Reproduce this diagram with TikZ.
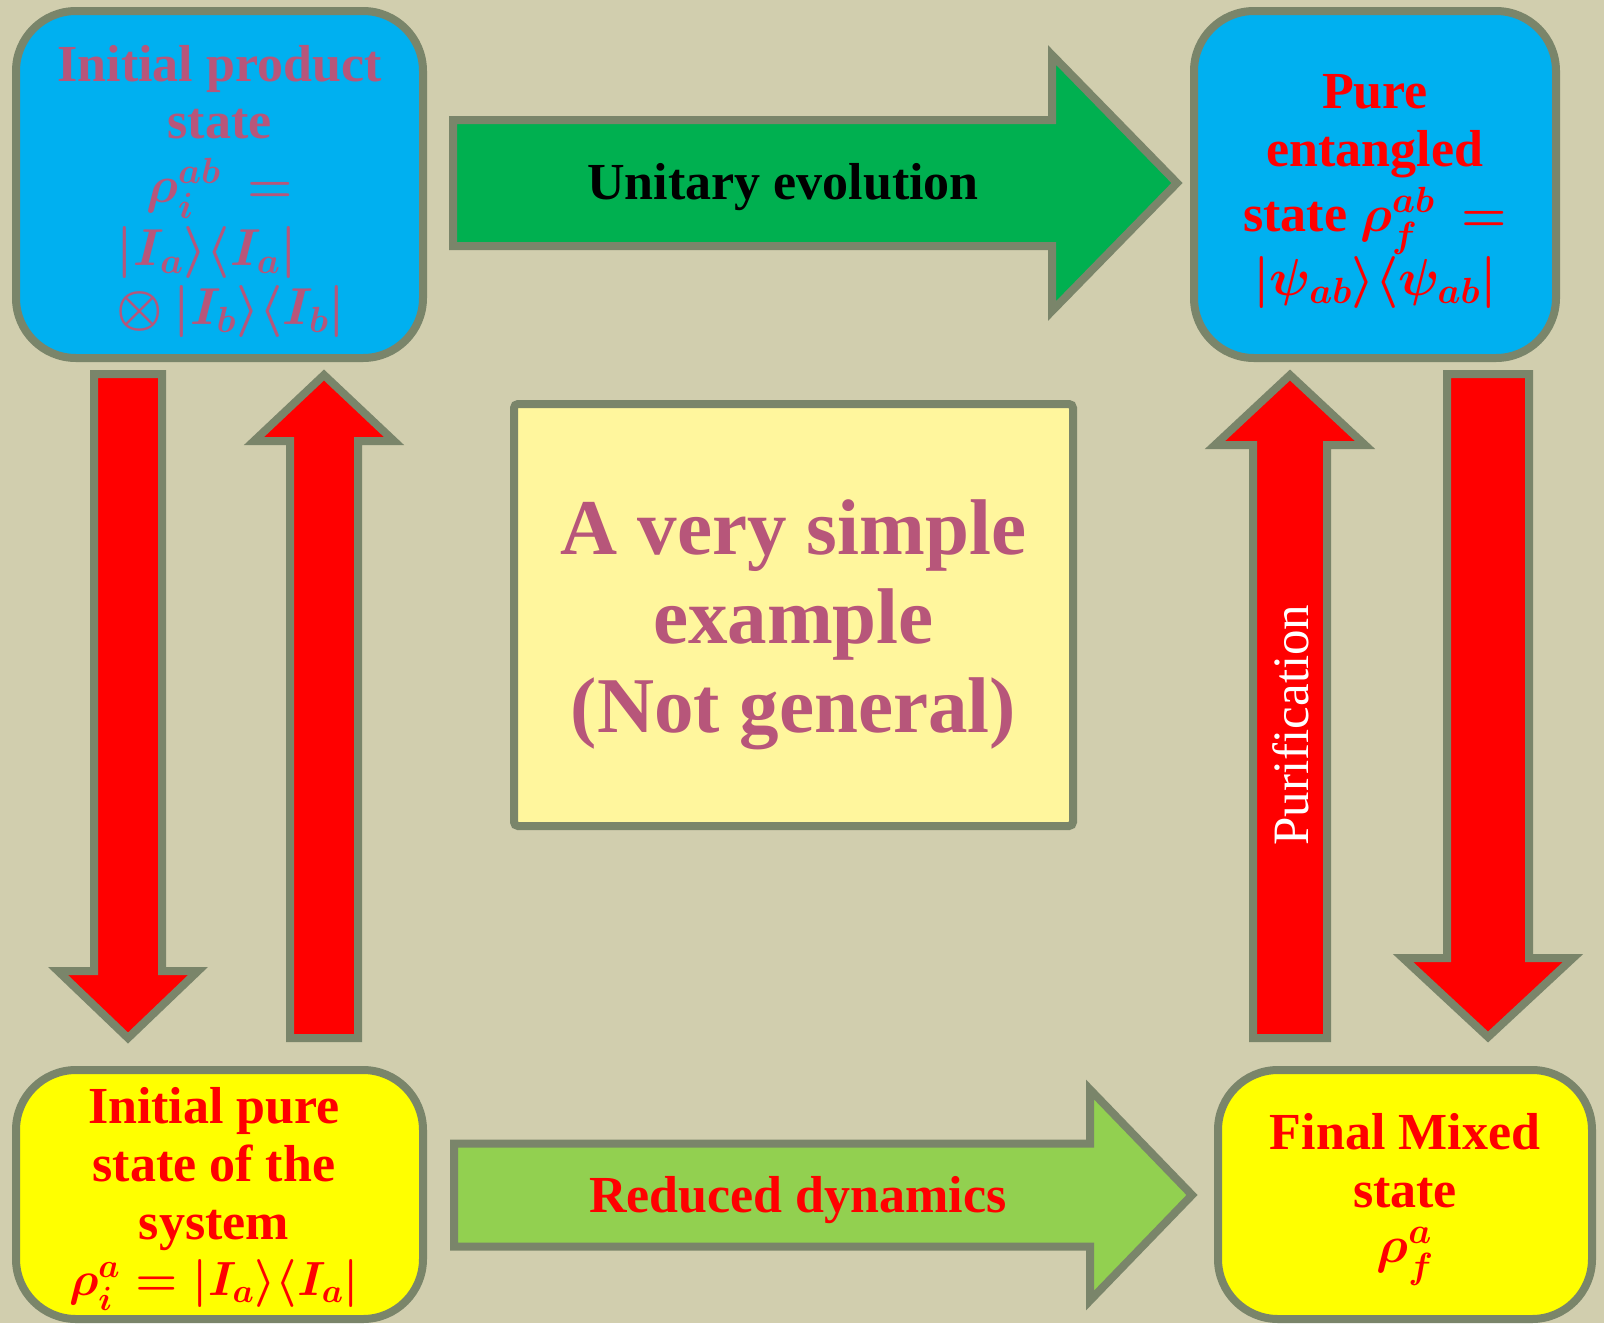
\RequirePackage{fix-cm}
\documentclass[tikz,border=0pt]{standalone}
\usepackage{amsmath}
\usepackage{fontspec}
\setmainfont{Liberation Serif}
\usetikzlibrary{calc}
\setlength{\lineskiplimit}{-200pt}
\definecolor{bg}{RGB}{209,206,174}
\definecolor{bord}{RGB}{122,133,106}
\definecolor{boxblue}{RGB}{0,176,240}
\definecolor{boxyel}{RGB}{255,255,0}
\definecolor{paleyel}{RGB}{255,246,157}
\definecolor{darkgreen}{RGB}{0,176,80}
\definecolor{lightgreen}{RGB}{146,208,80}
\definecolor{pinktxt}{RGB}{183,86,122}
\definecolor{redtxt}{RGB}{255,0,0}
\tikzset{
  stbox/.style={draw=bord, line width=8pt, rounded corners=60pt, inner sep=0pt},
  blkarrow/.style={draw=bord, line width=8pt, line join=miter},
  bigtxt/.style={font=\fontsize{52}{57}\selectfont\bfseries\boldmath, inner sep=0pt, align=center},
}
\newcommand\blockarrow[6]{%
  \coordinate (#1h) at ($(#2)!#5!(#1)$);
  \draw[blkarrow,fill=#6] ($(#1)!#3!90:(#2)$) -- ($(#1h)!#3!90:(#2)$) -- ($(#1h)!#4!90:(#2)$) -- (#2)
    -- ($(#1h)!#4!-90:(#2)$) -- ($(#1h)!#3!-90:(#2)$) -- ($(#1)!#3!-90:(#2)$) -- cycle;}
\begin{document}
\begin{tikzpicture}[x=1pt,y=-1pt]
\useasboundingbox (0,0) rectangle (1604,1323);
\fill[bg] (0,0) rectangle (1604,1323);

% state boxes
\node[stbox, fill=boxblue, minimum width=407pt, minimum height=347pt] (tl) at (219.5,184.5) {};
\node[stbox, fill=boxblue, minimum width=362pt, minimum height=347pt] (tr) at (1375,184.5) {};
\node[stbox, fill=boxyel, minimum width=407pt, minimum height=249pt] (bl) at (219.5,1194.5) {};
\node[stbox, fill=boxyel, minimum width=374pt, minimum height=249pt] (br) at (1405,1194.5) {};
\node[stbox, rounded corners=4pt, fill=paleyel, minimum width=559pt, minimum height=422pt] (mid) at (793.5,615) {};

% texts in the boxes
\node[bigtxt, text=pinktxt, anchor=north] (tltxt) at (219.5,45)
  {Initial product\\state\\[7pt]$\rho_i^{ab}\,=$\\[6pt]\makebox[205pt][l]{$|I_a\rangle\langle I_a|$}\\[2pt]\makebox[205pt][l]{$\otimes\,|I_b\rangle\langle I_b|$}};
\node[bigtxt, text=redtxt, anchor=north] (trtxt) at (1375,74)
  {Pure\\[1pt]entangled\\[8pt]state $\rho_f^{ab}\,=$\\[7pt]$|\psi_{ab}\rangle\langle\psi_{ab}|$};
\node[bigtxt, text=redtxt, anchor=north] (bltxt) at (214,1087)
  {Initial pure\\[1pt]state of the\\[1pt]system\\[-1pt]{\fontsize{48}{57}\selectfont$\rho_i^{a} = |I_a\rangle\langle I_a|$}};
\node[bigtxt, text=redtxt, anchor=north] (brtxt) at (1405,1113)
  {Final Mixed\\[1pt]state\\[-2pt]$\rho_f^{a}$};
\node[inner sep=0pt, align=center, text=pinktxt, anchor=north,
  font=\fontsize{79}{89}\selectfont\bfseries] (midtxt) at (793.5,499)
  {A very simple\\example\\(Not general)};

% block arrows
\coordinate (uA) at (453,183);   \coordinate (uB) at (1177,183);
\blockarrow{uA}{uB}{63pt}{128pt}{125pt}{darkgreen}
\coordinate (rA) at (454,1195);  \coordinate (rB) at (1192,1195);
\blockarrow{rA}{rB}{51.5pt}{105.5pt}{102pt}{lightgreen}
\coordinate (ldA) at (128,374);  \coordinate (ldB) at (128,1038);
\blockarrow{ldA}{ldB}{34pt}{70pt}{67pt}{redtxt}
\coordinate (luA) at (324,1038); \coordinate (luB) at (324,375);
\blockarrow{luA}{luB}{34pt}{70pt}{66pt}{redtxt}
\coordinate (ruA) at (1290,1038); \coordinate (ruB) at (1290,375);
\blockarrow{ruA}{ruB}{37pt}{75pt}{70pt}{redtxt}
\coordinate (rdA) at (1488,374); \coordinate (rdB) at (1488,1037);
\blockarrow{rdA}{rdB}{41pt}{85pt}{79pt}{redtxt}

% arrow labels
\node[bigtxt, text=black, anchor=base] (ulab) at (783,199) {Unitary evolution};
\node[bigtxt, text=redtxt, anchor=base] (rlab) at (798,1212) {Reduced dynamics};
\node[font=\fontsize{51}{58}\selectfont, text=white, rotate=90, inner sep=0pt] (plab) at (1291,725) {Purification};
\end{tikzpicture}
\end{document}
